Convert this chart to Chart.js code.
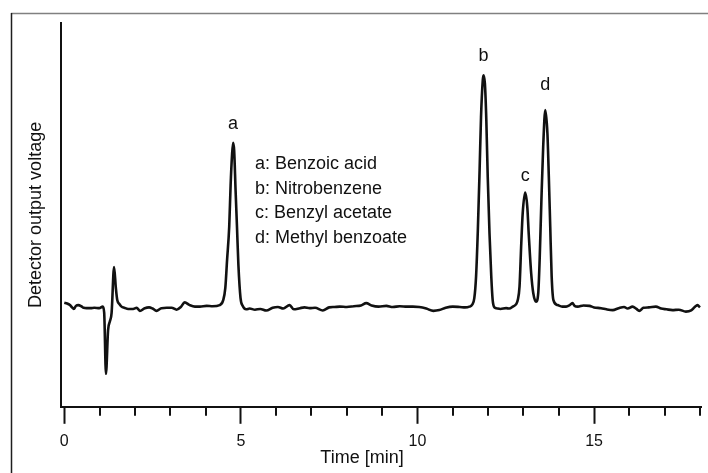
<!DOCTYPE html>
<html>
<head>
<meta charset="utf-8">
<title>Chromatogram</title>
<script src="https://cdn.jsdelivr.net/npm/chart.js@4.4.1/dist/chart.umd.min.js"></script>
<style>
    html, body { margin: 0; padding: 0; background: #fff; }
    #wrap { position: relative; width: 708px; height: 473px; }
</style>
</head>
<body>
<div id="wrap"><canvas id="chromChart" width="708" height="473"></canvas></div>
<script>
// retention time [min]
const timeMin = [
    0.00, 0.08, 0.16, 0.22, 0.27, 0.33, 0.40, 0.48, 0.55, 0.63, 0.75, 0.85, 0.99,
    1.09, 1.13, 1.18, 1.24, 1.29, 1.34, 1.41, 1.46, 1.50, 1.56, 1.62, 1.70, 1.81, 1.95,
    2.05, 2.14, 2.28, 2.40, 2.50, 2.61, 2.75, 2.90, 3.04, 3.18, 3.30, 3.41, 3.55, 3.70, 3.84,
    4.03, 4.20, 4.40, 4.50, 4.56, 4.61, 4.67, 4.71, 4.75, 4.78, 4.81, 4.85, 4.89, 4.93, 4.99,
    5.05, 5.15, 5.25, 5.40, 5.55, 5.72, 5.90, 6.05, 6.20, 6.38, 6.50, 6.67, 6.80, 6.95,
    7.10, 7.32, 7.50, 7.65, 7.80, 8.00, 8.20, 8.40, 8.55, 8.70, 8.90, 9.12, 9.30, 9.50, 9.70, 9.87,
    10.05, 10.25, 10.45, 10.62, 10.80, 11.00, 11.20, 11.35, 11.47, 11.55, 11.61, 11.66, 11.71,
    11.76, 11.80, 11.85, 11.87, 11.91, 11.95, 11.99, 12.04, 12.09, 12.13, 12.18, 12.23, 12.35,
    12.51, 12.60, 12.70, 12.80, 12.84, 12.89, 12.94, 12.98, 13.05, 13.11, 13.15, 13.22, 13.28,
    13.36, 13.42, 13.46, 13.51, 13.56, 13.62, 13.68, 13.72, 13.76, 13.80, 13.85, 13.97,
    14.10, 14.21, 14.30, 14.39, 14.45, 14.54, 14.70, 14.87, 15.00, 15.20, 15.35, 15.53, 15.70,
    15.85, 15.95, 16.09, 16.20, 16.28, 16.40, 16.55, 16.75, 16.90, 17.05, 17.22, 17.40, 17.60,
    17.75, 17.85, 17.93, 18.00
];

// detector signal (arbitrary units, axis 0-100)
const signal = [
    27.1, 26.9, 26.5, 25.9, 25.5, 26.3, 26.5, 26.2, 25.8, 25.7, 25.7, 25.8, 25.7,
    26.1, 24.5, 8.6, 20.0, 22.2, 24.5, 36.4, 31.0, 27.8, 26.8, 26.1, 25.8, 25.5, 25.5,
    25.8, 25.0, 25.7, 25.9, 25.6, 25.0, 25.7, 25.8, 25.8, 25.3, 26.0, 27.2, 26.5, 26.1, 26.1,
    26.3, 26.2, 26.5, 27.8, 31.0, 38.3, 46.9, 57.8, 65.6, 68.8, 66.8, 56.5, 46.9, 37.0, 28.4,
    26.3, 25.4, 25.6, 25.3, 25.5, 25.1, 25.8, 26.0, 25.6, 26.5, 25.4, 25.7, 25.9, 25.7,
    25.8, 25.1, 25.9, 26.0, 26.1, 26.0, 26.2, 26.4, 27.0, 26.4, 26.1, 26.3, 26.0, 26.2, 26.1, 26.1,
    26.0, 25.6, 25.0, 25.2, 25.8, 26.1, 26.0, 25.9, 26.1, 26.6, 28.3, 34.0, 46.0,
    61.7, 75.5, 85.1, 86.4, 84.2, 74.7, 59.9, 45.2, 34.0, 27.8, 25.9, 25.7, 25.5,
    25.7, 25.6, 26.1, 26.8, 27.8, 31.3, 42.6, 50.4, 55.8, 52.1, 45.2, 34.8, 29.6,
    27.4, 29.6, 38.3, 53.9, 67.7, 77.3, 71.2, 59.9, 46.9, 34.0, 27.8, 26.5,
    26.1, 26.1, 26.4, 27.0, 26.3, 26.1, 26.4, 26.3, 25.9, 25.7, 25.4, 25.2, 25.7,
    26.0, 25.6, 26.1, 25.5, 25.0, 25.8, 25.9, 26.1, 25.6, 25.4, 25.2, 25.3, 24.8,
    25.1, 26.0, 26.5, 25.9
];

// peak annotations
const peakTags = ['a', 'b', 'c', 'd'];
const peakTimes = [4.78, 11.87, 13.05, 13.62];
const peakHeights = [68.8, 86.4, 55.8, 77.3];
const compoundNames = ['a: Benzoic acid', 'b: Nitrobenzene', 'c: Benzyl acetate', 'd: Methyl benzoate'];

const FONT = '"Liberation Sans", Arial, Helvetica, sans-serif';

/** Frame, minor ticks, peak letters, compound list, x title */
const decorPlugin = {
    id: 'decor',
    beforeDraw(chart) {
        const c = chart.ctx;
        c.save();
        c.lineWidth = 1.5;
        c.strokeStyle = '#808080';
        c.beginPath();
        c.moveTo(11, 13.5);
        c.lineTo(chart.width, 13.5);
        c.stroke();
        c.strokeStyle = '#1e1e1e';
        c.beginPath();
        c.moveTo(11.5, 13);
        c.lineTo(11.5, chart.height);
        c.stroke();
        c.restore();
    },
    afterDraw(chart) {
        const c = chart.ctx;
        const xs = chart.scales.x;
        const ys = chart.scales.y;
        const bottom = chart.chartArea.bottom;

        c.save();
        // minor ticks (every minute, not on multiples of 5)
        c.strokeStyle = '#111';
        c.lineWidth = 2;
        xs.ticks.forEach(t => {
            if (t.value % 5 === 0) return;
            const px = Math.round(xs.getPixelForValue(t.value));
            c.beginPath();
            c.moveTo(px, bottom);
            c.lineTo(px, bottom + 9);
            c.stroke();
        });

        // peak letters above each peak
        const gaps = [14, 14, 12, 20];
        c.fillStyle = '#111';
        c.font = '18px ' + FONT;
        c.textAlign = 'center';
        c.textBaseline = 'alphabetic';
        peakTags.forEach((tag, i) => {
            const px = xs.getPixelForValue(peakTimes[i]);
            const py = ys.getPixelForValue(peakHeights[i]);
            c.fillText(tag, px, py - gaps[i]);
        });

        // compound list
        c.textAlign = 'left';
        compoundNames.forEach((name, i) => {
            c.fillText(name, 255, 169 + i * 24.5);
        });

        // x axis title
        c.textAlign = 'center';
        c.textBaseline = 'middle';
        c.fillText('Time [min]', 362, 458);
        c.restore();
    }
};

const points = timeMin.map((t, i) => ({ x: t, y: signal[i] }));

new Chart(document.getElementById('chromChart'), {
    type: 'line',
    data: {
        datasets: [{
            data: points,
            borderColor: '#111',
            borderWidth: 2.6,
            pointRadius: 0,
            fill: false,
            cubicInterpolationMode: 'monotone'
        }]
    },
    options: {
        responsive: false,
        animation: false,
        layout: { padding: { left: 21, top: 23, right: 6, bottom: 14 } },
        plugins: {
            legend: { display: false },
            tooltip: { enabled: false }
        },
        scales: {
            x: {
                type: 'linear',
                min: -0.09,
                max: 18.04,
                grid: {
                    drawOnChartArea: false,
                    drawTicks: true,
                    tickLength: 17,
                    tickWidth: 2,
                    tickColor: ctx => (ctx.tick && ctx.tick.value % 5 === 0) ? '#111' : 'rgba(0,0,0,0)'
                },
                border: { display: true, color: '#111', width: 2 },
                ticks: {
                    stepSize: 1,
                    includeBounds: false,
                    autoSkip: false,
                    maxRotation: 0,
                    padding: 8,
                    color: '#111',
                    font: { family: FONT, size: 16 },
                    callback: v => (v % 5 === 0 ? String(v) : '')
                }
            },
            y: {
                type: 'linear',
                min: 0,
                max: 100,
                grid: { display: false, drawTicks: false },
                border: { display: true, color: '#111', width: 2 },
                ticks: { display: false },
                title: {
                    display: true,
                    text: 'Detector output voltage',
                    color: '#111',
                    font: { family: FONT, size: 18 },
                    padding: { top: 4, bottom: 14.5 }
                }
            }
        }
    },
    plugins: [decorPlugin]
});
</script>
</body>
</html>
